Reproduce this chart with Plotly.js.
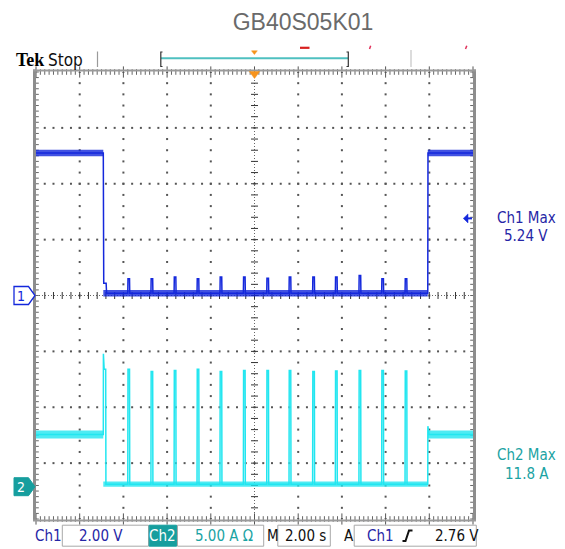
<!DOCTYPE html>
<html><head><meta charset="utf-8">
<script src="https://cdn.plot.ly/plotly-3.0.1.min.js"></script>
<style>html,body{margin:0;padding:0;background:#fff;overflow:hidden}#chart{width:565px;height:549px}</style>
</head><body><div id="chart"></div>
<script>
// ---------------- data ----------------
const timeRange = [-10, 10];          // s   (2.00 s/div, trigger at centre)
const ch1Range = [-8, 8];             // V   (2.00 V/div, ground at centre)
const ch2Range = [-2.89, 37.11];      // A   (5.00 A/div)
const edgeTimes = [-6.92, 7.93];      // Ch1 falling edge, rising edge (s)
const pulseTimes = [-5.80, -4.74, -3.68, -2.63, -1.58, -0.51, 0.56, 1.58, 2.66, 3.70, 4.78, 5.82, 6.89];
const pulseWidth = 0.08;              // s
const ch1PulsePeaks = [0.60, 0.60, 0.66, 0.60, 0.66, 0.66, 0.62, 0.66, 0.66, 0.66, 0.72, 0.60, 0.60];
const ch2PulsePeaks = [10.5, 10.3, 10.4, 10.5, 10.3, 10.4, 10.4, 10.4, 10.3, 10.35, 10.4, 10.4, 10.35];
const ch1HighBand = [4.98, 5.22];     // V noise envelope, output on
const ch1LowBand = [-0.04, 0.20];     // V noise envelope, output off
const ch2HighBand = [4.32, 5.02];     // A
const ch2LowBand = [0.00, 0.46];      // A
const ch1EdgeShelf = 0.44;            // V
const ch2FirstPeak = [11.9, 10.5];    // A
const ch2Overshoot = 5.42;            // A
const triggerLevel = 2.76;            // V
const readouts = {ch1Max: '5.24 V', ch2Max: '11.8 A'};
const statusLabels = ['Ch1', '2.00 V', 'Ch2', '5.00 A Ω', 'M', '2.00 s', 'A', 'Ch1', '2.76 V'];
const chartTitle = 'GB40S05K01';

// ---------------- geometry / style ----------------
const W = 565, H = 549, M = {l: 36, r: 92, t: 72, b: 30};
const pw = W - M.l - M.r, ph = H - M.t - M.b;
const PX = x => (x - M.l) / pw;
const PY = y => 1 - (y - M.t) / ph;
const y1px = v => M.t + (ch1Range[1] - v) / (ch1Range[1] - ch1Range[0]) * ph;
const y2px = a => M.t + (ch2Range[1] - a) / (ch2Range[1] - ch2Range[0]) * ph;
const C1 = '#1428dc', C2 = '#22e6f0', T1 = '#2626a6', T2 = '#1ba3a3';
const NARROW = 'DejaVu Sans Condensed, Liberation Sans Narrow, sans-serif';

const mid = b => (b[0] + b[1]) / 2;
const traces = [];

// grid dots
const gx = [], gy = [];
for (let i = -4; i <= 4; i++) { if (i === 0) continue; for (let k = 0; k <= 40; k++) { gx.push(i * 2); gy.push(-8 + k * 0.4); } }
for (let j = -3; j <= 3; j++) { if (j === 0) continue; for (let k = 1; k < 50; k++) { gx.push(-10 + k * 0.4); gy.push(j * 2); } }
traces.push({x: gx, y: gy, mode: 'markers', marker: {symbol: 'square', size: 2, color: '#555'}, hoverinfo: 'skip'});
// centre lines
traces.push({x: [0, 0], y: [-8, 8], mode: 'lines', line: {color: '#666', width: 1, dash: '1px,2px'}, hoverinfo: 'skip'});
traces.push({x: [-10, 10], y: [0, 0], mode: 'lines', line: {color: '#666', width: 1, dash: '1px,2px'}, hoverinfo: 'skip'});
const cvy = [], chx = [];
for (let k = 1; k < 40; k++) cvy.push(-8 + k * 0.4);
for (let k = 1; k < 50; k++) chx.push(-10 + k * 0.4);
traces.push({x: cvy.map(() => 0), y: cvy, mode: 'markers', marker: {symbol: 'line-ew', size: 5, line: {width: 1, color: '#333'}}, hoverinfo: 'skip'});
traces.push({x: chx, y: chx.map(() => 0), mode: 'markers', marker: {symbol: 'line-ns', size: 5, line: {width: 1, color: '#333'}}, hoverinfo: 'skip'});
// border rulers
const rx = [], ry = [], rxM = [];
for (let k = 0; k <= 100; k++) { const x = -10 + k * 0.2; (k % 10 === 0 ? rxM : rx).push(x); }
for (let k = 0; k <= 80; k++) { ry.push(-8 + k * 0.2); }
[8, -8].forEach(yy => {
  traces.push({x: rx, y: rx.map(() => yy), mode: 'markers', cliponaxis: false, marker: {symbol: 'line-ns', size: 4, line: {width: 1, color: '#666'}}, hoverinfo: 'skip'});
  traces.push({x: rxM, y: rxM.map(() => yy), mode: 'markers', cliponaxis: false, marker: {symbol: 'line-ns', size: 8, line: {width: 1, color: '#555'}}, hoverinfo: 'skip'});
});
[-10, 10].forEach(xx => {
  traces.push({x: ry.map(() => xx), y: ry, mode: 'markers', cliponaxis: false, marker: {symbol: 'line-ew', size: 4, line: {width: 1, color: '#666'}}, hoverinfo: 'skip'});
});

// noise bands
function band(x0, x1, b, yaxis, color) {
  return {x: [x0, x1, x1, x0, x0], y: [b[0], b[0], b[1], b[1], b[0]], yaxis: yaxis, mode: 'lines',
          fill: 'toself', fillcolor: color, line: {width: 0, color: color}, hoverinfo: 'skip', opacity: 0.8};
}
const [tf, tr] = edgeTimes;
traces.push(band(timeRange[0], tf, ch1HighBand, 'y', C1));
traces.push(band(tf, tr, ch1LowBand, 'y', C1));
traces.push(band(tr, timeRange[1], ch1HighBand, 'y', C1));
traces.push(band(timeRange[0], tf, ch2HighBand, 'y2', C2));
traces.push(band(tf, tr, ch2LowBand, 'y2', C2));
traces.push(band(tr, timeRange[1], ch2HighBand, 'y2', C2));

// Ch1 waveform
const c1x = [timeRange[0], tf, tf + 0.02, tf + 0.13, tf + 0.15];
const c1y = [mid(ch1HighBand), mid(ch1HighBand), ch1EdgeShelf, ch1EdgeShelf, mid(ch1LowBand)];
pulseTimes.forEach((t, i) => {
  c1x.push(t, t + 0.01, t + pulseWidth, t + pulseWidth + 0.01);
  c1y.push(mid(ch1LowBand), ch1PulsePeaks[i], ch1PulsePeaks[i], mid(ch1LowBand));
});
c1x.push(tr, tr + 0.01, timeRange[1]);
c1y.push(mid(ch1LowBand), mid(ch1HighBand), mid(ch1HighBand));
traces.push({x: c1x, y: c1y, mode: 'lines', line: {color: C1, width: 1.5}, hoverinfo: 'skip'});

// Ch2 waveform
const c2x = [timeRange[0], tf, tf + 0.005, tf + 0.04, tf + 0.11, tf + 0.12];
const c2y = [mid(ch2HighBand), mid(ch2HighBand), ch2FirstPeak[0], ch2FirstPeak[1], ch2FirstPeak[1], mid(ch2LowBand)];
pulseTimes.forEach((t, i) => {
  c2x.push(t, t + 0.01, t + pulseWidth, t + pulseWidth + 0.01);
  c2y.push(mid(ch2LowBand), ch2PulsePeaks[i], ch2PulsePeaks[i], mid(ch2LowBand));
});
c2x.push(tr, tr + 0.005, tr + 0.06, timeRange[1]);
c2y.push(mid(ch2LowBand), ch2Overshoot, mid(ch2HighBand), mid(ch2HighBand));
traces.push({x: c2x, y: c2y, yaxis: 'y2', mode: 'lines', line: {color: C2, width: 1.5}, hoverinfo: 'skip'});

// ---------------- decorations ----------------
const shapes = [];
const ln = (x0, y0, x1, y1, color, width) => shapes.push({type: 'line', xref: 'paper', yref: 'paper',
  x0: PX(x0), y0: PY(y0), x1: PX(x1), y1: PY(y1), line: {color: color, width: width}});
const poly = (pts, fill, lcolor, lw) => shapes.push({type: 'path', xref: 'paper', yref: 'paper',
  path: 'M' + pts.map(p => PX(p[0]).toFixed(5) + ',' + PY(p[1]).toFixed(5)).join('L') + 'Z',
  fillcolor: fill, line: {color: lcolor, width: lw}});
const rect = (x0, y0, x1, y1, fill, lcolor, lw) => shapes.push({type: 'rect', xref: 'paper', yref: 'paper',
  x0: PX(x0), y0: PY(y0), x1: PX(x1), y1: PY(y1), fillcolor: fill, line: {color: lcolor, width: lw}});

// borders
ln(34.5, 69.5, 34.5, 521, '#8d8d8d', 3);
ln(474.5, 69.5, 474.5, 521, '#8d8d8d', 3);
ln(33, 70.5, 476, 70.5, '#9a9a9a', 2);
ln(33, 520.5, 476, 520.5, '#9a9a9a', 2);

// top bar
ln(97.5, 51.5, 97.5, 67, '#9a9a9a', 1.2);
ln(411, 50, 411, 67, '#d0d0d0', 1.5);
ln(161, 58.3, 348, 58.3, '#4fc0c0', 2);
shapes.push({type: 'path', xref: 'paper', yref: 'paper', line: {color: '#333', width: 1.2},
  path: `M${PX(162.5)},${PY(52)}L${PX(160.8)},${PY(52)}L${PX(160.8)},${PY(66.5)}L${PX(162.5)},${PY(66.5)}`});
shapes.push({type: 'path', xref: 'paper', yref: 'paper', line: {color: '#333', width: 1.2},
  path: `M${PX(346.5)},${PY(52)}L${PX(348.3)},${PY(52)}L${PX(348.3)},${PY(66.5)}L${PX(346.5)},${PY(66.5)}`});
poly([[251.5, 50.8], [257.3, 50.8], [254.4, 54.5]], '#f7941d', '#f7941d', 0.5);
poly([[249.3, 71.5], [259.7, 71.5], [254.5, 78.5]], '#f7941d', '#f7941d', 0.5);
ln(300, 47.8, 309.5, 47.8, '#d8201f', 2.2);
ln(369.5, 49, 370.7, 45.8, '#e0305a', 1.5);
ln(465.5, 49, 466.8, 45.8, '#e0305a', 1.5);

// ground markers
const g1 = y1px(0), g2 = y2px(0);
poly([[14, g1 - 9], [28.5, g1 - 9], [35, g1], [28.5, g1 + 9], [14, g1 + 9]], '#ffffff', C1, 1.3);
poly([[14, g2 - 9], [28.5, g2 - 9], [35, g2], [28.5, g2 + 9], [14, g2 + 9]], '#169e9e', '#169e9e', 1);
// trigger level arrow
const gt = y1px(triggerLevel);
poly([[463.3, gt], [468, gt - 4.5], [468, gt + 4.5]], C1, C1, 0.5);
ln(467, gt, 472, gt, C1, 2);

// status bar boxes
rect(62.3, 525.2, 148.5, 546.2, '#fff', '#a8a8a8', 1);
rect(149.2, 525.2, 176.6, 546.2, '#169e9e', '#169e9e', 1);
rect(177.5, 525.2, 263.7, 546.2, '#fff', '#a8a8a8', 1);
rect(277.8, 525.2, 330.3, 546.2, '#fff', '#a8a8a8', 1);
rect(354.2, 525.2, 476.3, 546.2, '#fff', '#a8a8a8', 1);
shapes.push({type: 'path', xref: 'paper', yref: 'paper', line: {color: '#111', width: 2},
  path: `M${PX(402.5)},${PY(541)}L${PX(405.5)},${PY(541)}L${PX(409)},${PY(530.5)}L${PX(412.5)},${PY(530.5)}`});

const ann = [];
const txt = (text, x, y, color, size, anchor, family) => ann.push({text: text, xref: 'paper', yref: 'paper',
  x: PX(x), y: PY(y), xanchor: anchor || 'left', yanchor: 'middle', showarrow: false, borderpad: 0,
  font: {family: family || NARROW, size: size || 15, color: color}});

txt('<b>Tek</b>', 15, 59.5, '#000', 18, 'left', 'Liberation Serif, serif');
txt('Stop', 47, 59.5, '#111', 17);
txt('1', 20.5, g1, C1, 14, 'center');
txt('2', 20.5, g2, '#fff', 14, 'center');
txt('Ch1 Max', 526, 217.5, T1, 15, 'center');
txt(readouts.ch1Max, 526, 236, T1, 15, 'center');
txt('Ch2 Max', 526, 455, T2, 15, 'center');
txt(readouts.ch2Max, 527, 473.5, T2, 15, 'center');
const sx = [33.5, 77.5, 162.9, 193.5, 265.5, 283.5, 342.5, 365.5, 434];
const sc = [T1, T1, '#fff', T2, '#111', '#111', '#111', T1, '#111'];
statusLabels.forEach((s, i) => txt(s, sx[i], 536, sc[i], 15, i === 2 ? 'center' : 'left'));

const layout = {
  width: W, height: H, margin: M, paper_bgcolor: '#fff', plot_bgcolor: '#fff', showlegend: false,
  hovermode: false,
  title: {text: chartTitle, x: 303 / W, xanchor: 'center', y: 1 - 21.5 / H, yanchor: 'middle',
          font: {family: 'Liberation Sans, Arial, sans-serif', size: 23, color: '#6a6a6a'}},
  xaxis: {range: timeRange, showgrid: false, zeroline: false, showticklabels: false, ticks: '', showline: false, fixedrange: true},
  yaxis: {range: ch1Range, showgrid: false, zeroline: false, showticklabels: false, ticks: '', showline: false, fixedrange: true},
  yaxis2: {range: ch2Range, overlaying: 'y', showgrid: false, zeroline: false, showticklabels: false, ticks: '', showline: false, fixedrange: true},
  shapes: shapes, annotations: ann
};
Plotly.newPlot('chart', traces, layout, {displayModeBar: false, staticPlot: true});
</script></body></html>
